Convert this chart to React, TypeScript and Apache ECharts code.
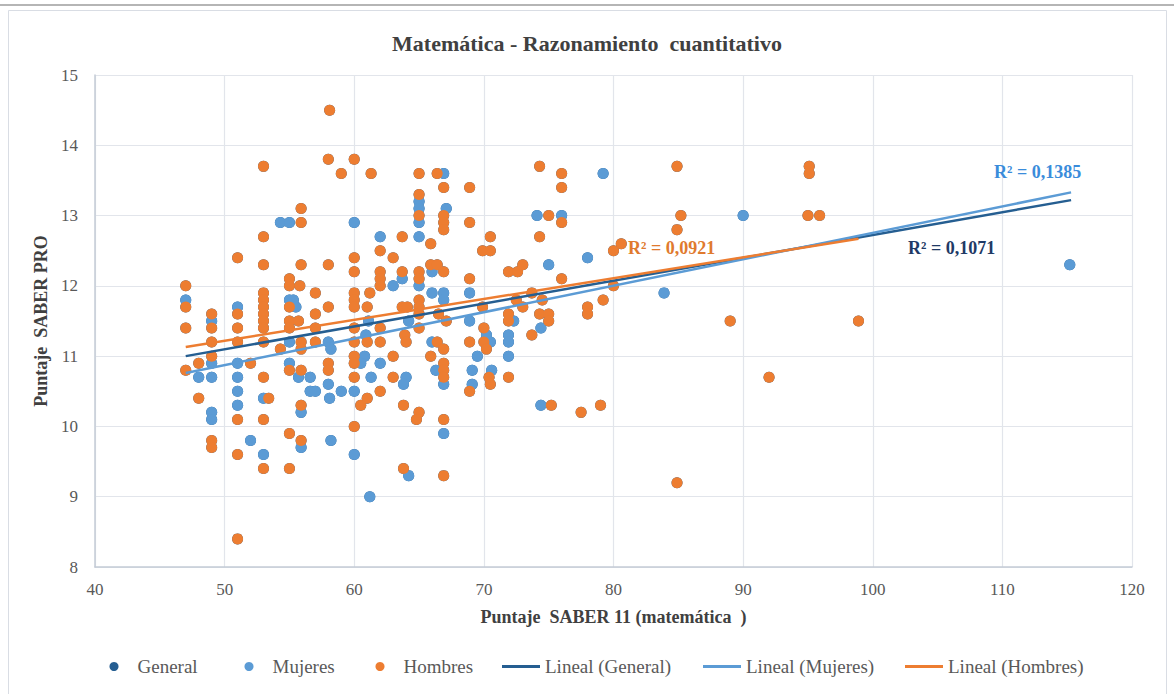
import React, { useEffect, useRef } from "react";
import * as echarts from "echarts";

// Puntaje SABER 11 (x) vs Puntaje SABER PRO (y)
const mujeres: [number, number][] = [
  [47, 11.8], [48, 10.7],
  [49, 11.5], [49, 10.9], [49, 10.7], [49, 10.2], [49, 10.1],
  [51, 11.7], [51, 10.9], [51, 10.7], [51, 10.5], [51, 10.3],
  [52, 9.8], [53, 10.4], [53, 9.6],
  [54.3, 12.9], [55, 12.9], [55, 11.8], [55.3, 11.8], [55.5, 11.7], [55, 11.2], [55, 10.9],
  [55.7, 10.7], [55.9, 10.2], [55.9, 9.7],
  [56.6, 10.7], [56.6, 10.5], [57, 10.5],
  [58, 11.2], [58.2, 11.1], [58, 10.6], [58.1, 10.4], [58.2, 9.8],
  [59, 10.5], [60, 12.9], [60, 10.5], [60, 9.6],
  [60.8, 11.0], [60.5, 10.9], [61.3, 10.7], [61.1, 11.5], [60.9, 11.3], [61.2, 9.0],
  [62, 12.7], [62, 10.9],
  [63, 12.0], [63.7, 12.1], [64.2, 11.5], [64, 10.7], [63.8, 10.6], [64.2, 9.3],
  [65, 13.2], [65, 13.1], [65, 12.9], [65, 12.7], [65, 12.0],
  [66, 12.2], [66, 11.9], [66, 11.2], [66.3, 10.8],
  [66.9, 13.6], [67.1, 13.1], [66.9, 11.9], [66.9, 11.8], [66.9, 10.6], [66.9, 9.9],
  [68.9, 11.9], [68.9, 11.5], [69.1, 10.8], [69.1, 10.6], [69.5, 11.0],
  [70.2, 11.3], [70.5, 11.2], [70.6, 10.8],
  [72.3, 11.5], [71.9, 11.3], [71.9, 11.2], [71.9, 11.0],
  [74.1, 13.0], [74.4, 11.4], [74.4, 10.3],
  [75, 12.3], [76, 13.0], [78, 12.4], [79.2, 13.6],
  [83.9, 11.9], [90, 13.0], [115.2, 12.3],
];

const hombres: [number, number][] = [
  [47, 12.0], [47, 11.7], [47, 11.4], [47, 10.8],
  [48, 10.9], [48, 10.4],
  [49, 11.6], [49, 11.4], [49, 11.2], [49, 11.0], [49, 9.8], [49, 9.7],
  [51, 12.4], [51, 11.6], [51, 11.4], [51, 11.2], [51, 10.1], [51, 9.6], [51, 8.4],
  [52, 10.9],
  [53, 13.7], [53, 12.7], [53, 12.3], [53, 11.9], [53, 11.8], [53, 11.7], [53, 11.6], [53, 11.5],
  [53, 11.4], [53, 11.2], [53, 10.7], [53, 10.1], [53, 9.4],
  [53.4, 10.4], [54.3, 11.1],
  [55, 12.1], [55, 12.0], [55.8, 12.0], [55, 11.7], [55, 11.5], [55.7, 11.5], [55, 11.4],
  [55, 10.8], [55, 9.9], [55, 9.4],
  [55.9, 13.1], [55.9, 12.9], [55.9, 12.3], [55.9, 11.2], [55.9, 11.1], [55.9, 10.8], [55.9, 10.3], [55.9, 9.8],
  [57, 11.9], [57, 11.6], [57, 11.4], [57, 11.2],
  [58.1, 14.5], [58, 13.8], [58, 12.3], [58, 11.7], [58, 10.9], [58, 10.8],
  [59, 13.6],
  [60, 13.8], [60, 12.4], [60, 12.2], [60, 11.9], [60, 11.8], [60, 11.7], [60, 11.4], [60, 11.2],
  [60, 11.0], [60, 10.9], [60, 10.7], [60, 10.0],
  [61.3, 13.6], [61.2, 11.9], [61, 11.7], [61, 11.2], [61, 10.4], [60.5, 10.3],
  [62, 12.5], [62, 12.2], [62, 12.1], [62, 12.0], [62, 11.4], [62, 11.2], [62, 10.5],
  [63, 12.4], [63, 11.0], [63, 10.7],
  [63.7, 12.7], [63.7, 12.2], [63.7, 11.7], [64.1, 11.7], [63.9, 11.3], [64, 11.2], [63.8, 10.3], [63.8, 9.4],
  [65, 13.6], [65, 13.3], [65, 13.0], [65, 12.2], [65, 12.1], [65, 11.8], [65, 11.7], [65, 11.6],
  [65, 11.4], [65, 10.2], [64.8, 10.1],
  [65.9, 12.6], [65.9, 12.3], [66.4, 12.3], [66.4, 13.6], [66.4, 11.2], [65.9, 11.0], [66.5, 11.6],
  [66.9, 13.4], [66.9, 13.0], [66.9, 12.9], [66.9, 12.8], [66.9, 12.2], [67.1, 11.5], [66.9, 11.1],
  [66.9, 10.9], [66.9, 10.8], [66.9, 10.7], [66.9, 10.1], [66.9, 9.3],
  [68.9, 13.4], [68.9, 12.9], [68.9, 12.1], [68.9, 11.2], [68.9, 10.5],
  [69.9, 12.5], [70.5, 12.5], [70.5, 12.7], [69.9, 11.7], [70, 11.4], [70, 11.2], [70.2, 11.1],
  [70.4, 10.7], [70.5, 10.6],
  [71.9, 12.2], [72.6, 12.2], [72.5, 11.8], [71.9, 11.6], [71.9, 11.5], [71.9, 10.7],
  [73, 12.3], [73, 11.7], [73.7, 11.9], [73.7, 11.3],
  [74.3, 13.7], [74.3, 12.7], [74.5, 11.8], [74.3, 11.6],
  [75, 13.0], [75, 11.6], [75, 11.5], [75.2, 10.3],
  [76, 13.6], [76, 13.4], [76, 12.9], [76, 12.1],
  [77.5, 10.2], [78, 11.7], [78, 11.6], [79.2, 11.8], [79, 10.3],
  [80, 12.5], [80.6, 12.6], [80, 12.0],
  [84.9, 13.7], [85.2, 13.0], [84.9, 12.8], [84.9, 9.2],
  [89, 11.5], [92, 10.7],
  [95.1, 13.7], [95.1, 13.6], [95, 13.0], [95.9, 13.0],
  [98.9, 11.5],
];

const general: [number, number][] = [...mujeres, ...hombres];

// Linear trend lines (end points)
const trendGeneral: [number, number][] = [[47, 11.0], [115.3, 13.22]];
const trendMujeres: [number, number][] = [[47, 10.76], [115.3, 13.33]];
const trendHombres: [number, number][] = [[47, 11.13], [98.9, 12.67]];

const r2Labels = ["R² = 0,0921", "R² = 0,1071", "R² = 0,1385"];

const seriesNames = ["General", "Mujeres", "Hombres", "Lineal (General)", "Lineal (Mujeres)", "Lineal (Hombres)"];
const colors = ["#255E91", "#5B9BD5", "#ED7D31", "#255E91", "#5B9BD5", "#ED7D31"];

const xMin = 40, xMax = 120, xStep = 10;
const yMin = 8, yMax = 15, yStep = 1;

const SERIF = "'Liberation Serif', 'Times New Roman', serif";

export default function App() {
  const ref = useRef<HTMLDivElement>(null);
  useEffect(() => {
    if (!ref.current) return;
    const chart = echarts.init(ref.current, undefined, { renderer: "svg" });
    const legendLefts = [109.5, 244.5, 375.5, 502, 703, 905];
    const legends = seriesNames.map((name, i) => {
      const isLine = i >= 3;
      return {
        data: [{ name, icon: isLine ? "rect" : "circle" }],
        left: legendLefts[i],
        top: 657,
        itemWidth: isLine ? 38 : 9,
        itemHeight: isLine ? 3 : 9,
        padding: 0,
        textStyle: {
          color: "#595959",
          fontSize: 19,
          fontFamily: SERIF,
          padding: isLine ? [0, 0, 0, 0] : [0, 0, 0, 14],
        },
      };
    });
    const scatterData = [general, mujeres, hombres];
    const trendData = [trendGeneral, trendMujeres, trendHombres];
    const series: any[] = [];
    scatterData.forEach((d, i) => {
      series.push({
        name: seriesNames[i],
        type: "scatter",
        data: d,
        symbol: "circle",
        symbolSize: 11,
        itemStyle: { color: colors[i], opacity: 1 },
        z: 2 + i,
      });
    });
    trendData.forEach((d, i) => {
      series.push({
        name: seriesNames[i + 3],
        type: "line",
        data: d,
        symbol: "none",
        lineStyle: { color: colors[i + 3], width: 2.5 },
        itemStyle: { color: colors[i + 3] },
        z: 6 + i,
      });
    });
    chart.setOption({
      animation: false,
      backgroundColor: "#ffffff",
      title: {
        text: "Matemática - Razonamiento  cuantitativo",
        left: "center",
        top: 27,
        textStyle: { color: "#404040", fontSize: 22, fontWeight: "bold", fontFamily: SERIF },
      },
      grid: { left: 95, top: 75, width: 1037, height: 492 },
      xAxis: {
        type: "value",
        min: xMin,
        max: xMax,
        interval: xStep,
        name: "Puntaje  SABER 11 (matemática  )",
        nameLocation: "middle",
        nameGap: 41,
        nameTextStyle: { color: "#404040", fontSize: 18, fontWeight: "bold", fontFamily: SERIF },
        axisLine: { show: true, lineStyle: { color: "#C4CBD6", width: 1.5 } },
        axisTick: { show: false },
        axisLabel: { color: "#595959", fontSize: 17, fontFamily: SERIF, margin: 14 },
        splitLine: { show: true, lineStyle: { color: "#E2E5EB", width: 1.2 } },
      },
      yAxis: {
        type: "value",
        min: yMin,
        max: yMax,
        interval: yStep,
        name: "Puntaje  SABER PRO",
        nameLocation: "middle",
        nameGap: 37,
        nameTextStyle: { color: "#404040", fontSize: 18, fontWeight: "bold", fontFamily: SERIF },
        axisLine: { show: true, lineStyle: { color: "#C4CBD6", width: 1.5 } },
        axisTick: { show: false },
        axisLabel: { color: "#595959", fontSize: 17, fontFamily: SERIF, margin: 17 },
        splitLine: { show: true, lineStyle: { color: "#E2E5EB", width: 1.2 } },
      },
      legend: legends,
      graphic: [
        { type: "rect", silent: true, z: -10, shape: { x: 0, y: 4, width: 1174, height: 2 }, style: { fill: "#B5B5B5" } },
        { type: "rect", silent: true, z: -10, shape: { x: 8.5, y: 10.5, width: 1158, height: 700 }, style: { fill: "none", stroke: "#D9DDE4", lineWidth: 1 } },
        { type: "text", z: 20, x: 628, y: 248, style: { text: r2Labels[0], fill: "#E07A2E", fontSize: 18, fontWeight: "bold", fontFamily: SERIF, verticalAlign: "middle" } },
        { type: "text", z: 20, x: 908, y: 248, style: { text: r2Labels[1], fill: "#1F3A66", fontSize: 18, fontWeight: "bold", fontFamily: SERIF, verticalAlign: "middle" } },
        { type: "text", z: 20, x: 994, y: 172, style: { text: r2Labels[2], fill: "#3A8CDB", fontSize: 18, fontWeight: "bold", fontFamily: SERIF, verticalAlign: "middle" } },
      ],
      series,
    });
    return () => chart.dispose();
  }, []);
  return (
    <div
      ref={ref}
      style={{ position: "fixed", left: 0, top: 0, width: 1174, height: 694, background: "#fff" }}
    />
  );
}
